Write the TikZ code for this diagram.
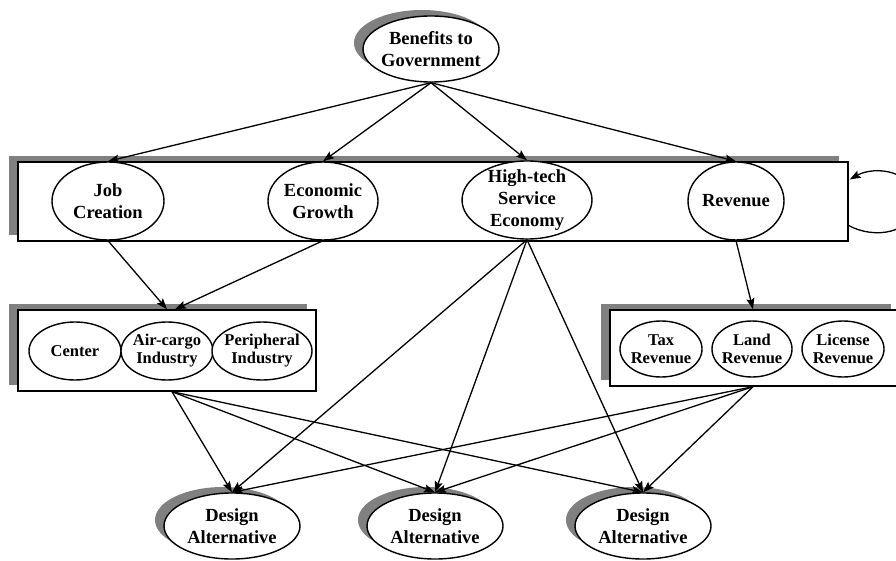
\documentclass[tikz,border=0pt]{standalone}
\usepackage{fontspec}
\setmainfont{Liberation Serif}
\usetikzlibrary{shapes.geometric,shadows,arrows.meta}
\begin{document}
\begin{tikzpicture}[x=1pt,y=-1pt,
  shad/.style={drop shadow={shadow xshift=-9pt,shadow yshift=6pt,fill=black!50,opacity=1}},
  ell/.style={ellipse,draw,line width=1.4pt,fill=white,inner sep=0pt},
  bigtxt/.style={font=\bfseries\fontsize{18.5}{22}\selectfont,align=center,inner sep=0pt},
  smalltxt/.style={font=\bfseries\fontsize{16.5}{18}\selectfont,align=center,inner sep=0pt},
  grp/.style={draw,line width=1.4pt,fill=white,inner sep=0pt},
  arr/.style={-{Stealth[length=11pt,width=8pt,inset=2pt]},line width=1.3pt},
]
\useasboundingbox (0,0) rectangle (896,561);

% top node
\node[ell,shad,minimum width=136,minimum height=66,label={[bigtxt]center:{Benefits to\\Government}}] (ben) at (431,49) {};

% first row group
\node[grp,shad,minimum width=830,minimum height=79] (row1) at (433,201.5) {};
\node[ell,minimum width=112,minimum height=78,label={[bigtxt]center:{Job\\Creation}}] (job) at (108,201) {};
\node[ell,minimum width=110,minimum height=78,label={[bigtxt]center:{Economic\\Growth}}] (eco) at (323,201) {};
\node[ell,minimum width=130,minimum height=78,label={[bigtxt]center:{High-tech\\Service\\Economy}}] (htk) at (527,200) {};
\node[ell,minimum width=96,minimum height=78,label={[bigtxt]center:{Revenue}}] (rev) at (736,201) {};

% left group
\node[grp,shad,minimum width=298,minimum height=81] (lg) at (167,350.5) {};
\node[ell,minimum width=92,minimum height=58,label={[smalltxt]center:{Center}}] (cen) at (75,351) {};
\node[ell,minimum width=92,minimum height=58,label={[smalltxt]center:{Air-cargo\\Industry}}] (air) at (167,351) {};
\node[ell,minimum width=100,minimum height=58,label={[smalltxt]center:{Peripheral\\Industry}}] (per) at (262,351) {};

% right group
\node[grp,shad,minimum width=290,minimum height=76] (rg) at (755,348) {};
\node[ell,minimum width=82,minimum height=56,label={[smalltxt]center:{Tax\\Revenue}}] (tax) at (661,349) {};
\node[ell,minimum width=80,minimum height=56,label={[smalltxt]center:{Land\\Revenue}}] (land) at (752,349) {};
\node[ell,minimum width=82,minimum height=56,label={[smalltxt]center:{License\\Revenue}}] (lic) at (843,349) {};

% design alternatives
\node[ell,shad,minimum width=136,minimum height=66,label={[bigtxt]center:{Design\\Alternative}}] (da1) at (232,526) {};
\node[ell,shad,minimum width=136,minimum height=66,label={[bigtxt]center:{Design\\Alternative}}] (da2) at (435,526) {};
\node[ell,shad,minimum width=136,minimum height=66,label={[bigtxt]center:{Design\\Alternative}}] (da3) at (643,526) {};

% connectors
\draw[arr] (ben.south) -- (job.north);
\draw[arr] (ben.south) -- (eco.north);
\draw[arr] (ben.south) -- (htk.north);
\draw[arr] (ben.south) -- (rev.north);

\draw[arr] (job.south) -- (lg.north);
\draw[arr] (eco.south) -- ([xshift=8pt]lg.north);
\draw[arr] (rev.south) -- ([xshift=-2pt]rg.north);

\coordinate (lgout) at ([xshift=5pt]lg.south);
\coordinate (rgout) at ([xshift=-2pt]rg.south);
\foreach \d in {da1,da2,da3}{
  \draw[arr] (lgout) -- (\d.north);
  \draw[arr] (rgout) -- (\d.north);
  \draw[arr] (htk.south) -- (\d.north);
}

% self loop on first row
\coordinate (lp1) at ([yshift=-24pt]row1.east);
\coordinate (lp2) at ([yshift=22pt,xshift=1pt]row1.east);
\draw[arr] (lp1) .. controls +(25,14) and +(0,32) .. (915,202) .. controls +(0,-32) and +(25,-14) .. (lp2);
\end{tikzpicture}
\end{document}
